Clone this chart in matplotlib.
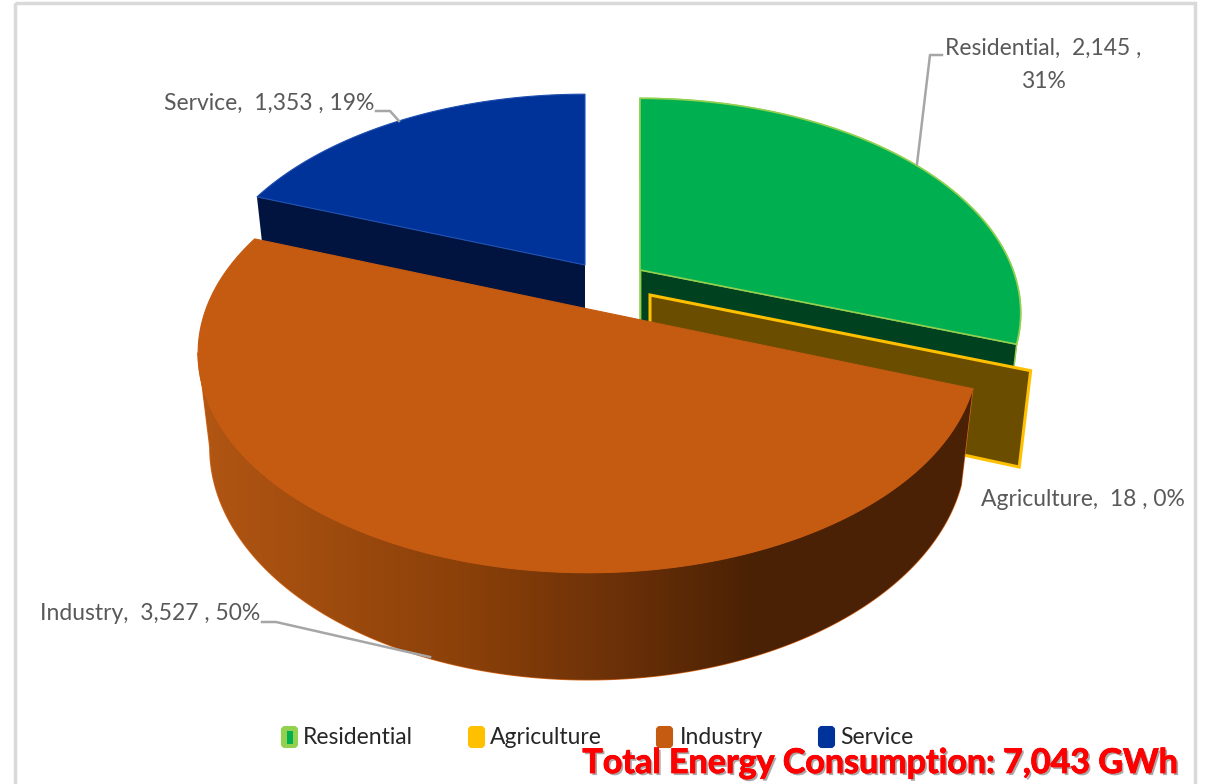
import matplotlib
matplotlib.use('Agg')
import matplotlib.pyplot as plt
import matplotlib.patheffects as pe
from matplotlib.colors import LinearSegmentedColormap
from matplotlib.patches import FancyBboxPatch, Polygon, Rectangle
import numpy as np

categories = ['Residential', 'Agriculture', 'Industry', 'Service']
values = [2145, 18, 3527, 1353]
value_labels = ['2,145', '18', '3,527', '1,353']
percents = [31, 0, 50, 19]
total_label = 'Total Energy Consumption: 7,043 GWh'

# pixel layout of each exploded slice: centre x, centre y, radius x, radius y
slice_geom = {
    'Residential': (640, 270, 373, 206),
    'Agriculture': (650, 295, 377, 210),
    'Industry': (588, 309, 382, 211),
    'Service': (585, 265, 376, 205),
}
top_colors = {'Residential': '#00b050', 'Agriculture': '#ffc000',
              'Industry': '#c55a11', 'Service': '#003399'}
wall_colors = {'Residential': '#004220', 'Agriculture': '#6b4d00', 'Service': '#00143f'}
edge_colors = {'Residential': '#92d050', 'Agriculture': '#ffc000',
               'Industry': '#c55a11', 'Service': '#1f4fb0'}
swatch_colors = {'Residential': '#92d050', 'Agriculture': '#ffc000',
                 'Industry': '#c55a11', 'Service': '#003399'}

PERSP = 0.2
DEPTH = 92
BOTTOM_SCALE = 0.97
LABEL_FONT = ['Lato', 'DejaVu Sans']
GREY = '#595959'

wall_cmap = LinearSegmentedColormap.from_list(
    'wall', [(0, '#b25613'), (0.35, '#8a4009'), (0.55, '#6a3008'), (0.72, '#4a2104'), (1, '#4a2104')])


def project(name, theta, radius=1.0, bottom=False):
    # theta runs clockwise from 12 o'clock, in radians
    cx, cy, rx, ry = slice_geom[name]
    u = radius * np.sin(theta)
    v = radius * np.cos(theta)
    d = 1 + PERSP * v
    scale = BOTTOM_SCALE if bottom else 1.0
    drop = DEPTH if bottom else 0
    return np.column_stack([cx + rx * scale * u / d, cy + (drop - ry * scale * v) / d])


fig = plt.figure(figsize=(12.09, 7.84), dpi=100)
ax = fig.add_axes([0, 0, 1, 1])
ax.axis('off')

ax.add_patch(Rectangle((15, 3), 1180, 790, fill=False, ec='#d9d9d9', lw=2.5))

# slice angles from the values
edges = np.concatenate([[0], np.cumsum(values)]) / np.sum(values) * 2 * np.pi
angles = {c: (edges[i], edges[i + 1]) for i, c in enumerate(categories)}


def top_face(name):
    a, b = angles[name]
    arc = project(name, np.linspace(a, b, 160))
    apex = project(name, 0.0, 0.0)
    return np.vstack([apex, arc])


def radial_wall(name, theta):
    return np.vstack([project(name, theta, 0.0), project(name, theta, 1.0),
                      project(name, theta, 1.0, True), project(name, theta, 0.0, True)])


def outer_wall(name):
    a, b = angles[name]
    t = np.linspace(a, b, 120)
    return np.vstack([project(name, t), project(name, t[::-1], 1.0, True)])


# Service, at the back
ax.add_patch(Polygon(radial_wall('Service', angles['Service'][0]), fc=wall_colors['Service'], ec='none'))
ax.add_patch(Polygon(radial_wall('Service', angles['Service'][1]), fc='#1f4fb0', ec='none'))
ax.add_patch(Polygon(top_face('Service'), fc=top_colors['Service'], ec=edge_colors['Service'], lw=0.8))

# Residential
ax.add_patch(Polygon(outer_wall('Residential'), fc=wall_colors['Residential'], ec=edge_colors['Residential'], lw=1))
ax.add_patch(Polygon(radial_wall('Residential', angles['Residential'][1]), fc=wall_colors['Residential'],
                     ec=edge_colors['Residential'], lw=1))
ax.add_patch(Polygon(radial_wall('Residential', angles['Residential'][0]), fc=wall_colors['Residential'],
                     ec=edge_colors['Residential'], lw=1))
ax.add_patch(Polygon(top_face('Residential'), fc=top_colors['Residential'], ec=edge_colors['Residential'], lw=1.2))

# Agriculture: only the wall shows
ax.add_patch(Polygon(radial_wall('Agriculture', angles['Agriculture'][0]), fc=wall_colors['Agriculture'],
                     ec=edge_colors['Agriculture'], lw=2.2, joinstyle='miter'))

# Industry: shaded outer wall then the top
ind_a, ind_b = angles['Industry']
t = np.linspace(ind_a, ind_b, 241)
top_pts = project('Industry', t)
bot_pts = project('Industry', t, 1.0, True)
x_lo, x_hi = top_pts[:, 0].min(), top_pts[:, 0].max()
# the wall stops at the leftmost point of the top, the rest is hidden behind it
k = np.argmin(top_pts[:, 0]) + 1
wall_shape = Polygon(np.vstack([top_pts[:k], bot_pts[:k][::-1]]), fc='none', ec='#d9681c', lw=1)
ax.add_patch(wall_shape)
img = ax.imshow(np.linspace(0, 1, 256).reshape(1, -1), cmap=wall_cmap, aspect='auto',
                extent=(x_lo, x_hi, 700, 300), zorder=1)
img.set_clip_path(wall_shape)
ax.add_patch(Polygon(top_face('Industry'), fc=top_colors['Industry'], ec=top_colors['Industry'], lw=0.8, zorder=1.5))

ax.set_xlim(0, 1209)
ax.set_ylim(784, 0)

# data labels with leader lines
label_style = dict(color=GREY, family=LABEL_FONT, fontsize=16.5, va='center')
ax.text(1043, 65, '%s,  %s ,\n%d%%' % (categories[0], value_labels[0], percents[0]), ha='center',
        linespacing=1.75, **label_style)
ax.text(1083, 499, '%s,  %s , %d%%' % (categories[1], value_labels[1], percents[1]), ha='center', **label_style)
ax.text(150, 613, '%s,  %s , %d%%' % (categories[2], value_labels[2], percents[2]), ha='center', **label_style)
ax.text(269, 103, '%s,  %s , %d%%' % (categories[3], value_labels[3], percents[3]), ha='center', **label_style)

leader = dict(color='#a6a6a6', lw=1.8, solid_joinstyle='round')
ax.plot([942, 930, 917], [55, 55, 164], **leader)
ax.plot([376, 390, 399], [111, 111, 121], **leader)
ax.plot([262, 276, 430], [622, 622, 657], **leader)

# legend
swatch_x = [281, 468, 656, 818]
text_x = [303, 490, 680, 840]
for name, sx, tx in zip(categories, swatch_x, text_x):
    ax.add_patch(FancyBboxPatch((sx + 1, 727), 15, 20, boxstyle='round,pad=0,rounding_size=3',
                                fc=swatch_colors[name], ec=swatch_colors[name], lw=1.5))
    if name == 'Residential':
        ax.add_patch(Rectangle((sx + 6, 731), 6, 13, fc=top_colors[name], ec='none'))
    ax.text(tx, 738, name, color='#262626', family=LABEL_FONT, fontsize=16.5, va='center', ha='left')

ax.text(1178, 763, total_label, color='#ff0000', family=LABEL_FONT, fontsize=24.5, fontweight='bold',
        ha='right', va='center',
        path_effects=[pe.withSimplePatchShadow(offset=(1.5, -1.5), shadow_rgbFace='#555555', alpha=0.5),
                      pe.withStroke(linewidth=0.6, foreground='#ff0000')])

fig.savefig('out.png', dpi=100)
